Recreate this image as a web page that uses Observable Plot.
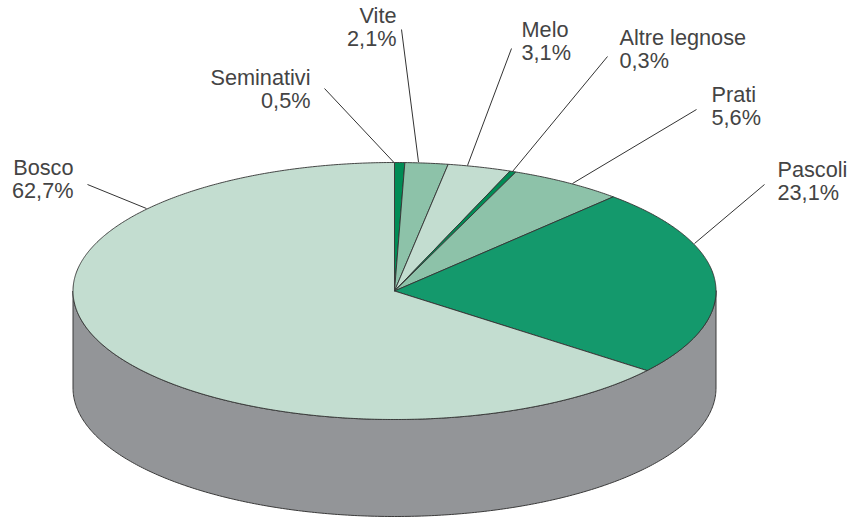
<!DOCTYPE html>
<html><head><meta charset="utf-8">
<script src="https://cdn.jsdelivr.net/npm/d3@7"></script>
<script src="https://cdn.jsdelivr.net/npm/@observablehq/plot@0.6"></script>
<style>html,body{margin:0;padding:0;background:#fff}svg{display:block}</style>
</head><body><div id="chart"></div>
<script>
// Data
const categories = ["Seminativi","Vite","Melo","Altre legnose","Prati","Pascoli","Bosco"];
const shares = [0.5,2.1,3.1,0.3,5.6,23.1,62.7];
const shareLabels = ["0,5%","2,1%","3,1%","0,3%","5,6%","23,1%","62,7%"];
const sliceColors = ["#008c55","#8dc2a9","#c3ddd0","#008c55","#8dc2a9","#14996c","#c3ddd0"];

// Layout (drawing positions, kept apart from the values)
const W = 848, H = 518;
const cx = 394, cy = 290.5, rx = 321.5, ry = 128.5, depth = 97;
const labelX = [310,396,521,619,711,777,73];
const labelY = [89,27,41,49,106,181,179];
const labelAnchor = ["end","end","start","start","start","start","end"];
const leaderFrom = [[393,161.5],[418,161.5],[467,165],[512,171],[572,183],[694,243],[146,208]];
const leaderTo = [[324,88],[401,29],[511,48],[607,56],[696,109],[764,184],[87,184]];

const total = d3.sum(shares);
const TAU = Math.PI * 2;
const px = t => cx + rx * Math.sin(t);
const py = t => cy - ry * Math.cos(t);

// wedge outlines from the shares
const wedges = [];
let start = 0;
categories.forEach((name, i) => {
  const end = start + shares[i] / total * TAU;
  const n = Math.max(2, Math.ceil((end - start) * 120));
  wedges.push({name, x: cx, y: cy});
  for (let k = 0; k <= n; k++) {
    const t = start + (end - start) * k / n;
    wedges.push({name, x: px(t), y: py(t)});
  }
  wedges.push({name, x: cx, y: cy});
  start = end;
});

// cylinder wall
const wall = [];
for (let k = 0; k <= 300; k++) { const t = Math.PI/2 + Math.PI*k/300; wall.push({x: px(t), y: py(t)}); }
for (let k = 300; k >= 0; k--) { const t = Math.PI/2 + Math.PI*k/300; wall.push({x: px(t), y: py(t) + depth}); }
wall.push(wall[0]);

const leaders = categories.map((name, i) => ({name, x1: leaderFrom[i][0], y1: leaderFrom[i][1], x2: leaderTo[i][0], y2: leaderTo[i][1]}));
const labels = categories.map((name, i) => ({text: name + "\n" + shareLabels[i], x: labelX[i], y: labelY[i], anchor: labelAnchor[i]}));
const textMark = a => Plot.text(labels.filter(d => d.anchor === a), {
  x: "x", y: "y", text: "text", textAnchor: a, lineHeight: 1.04,
  fontSize: 21.7, fontFamily: "Liberation Sans", fill: "#444"
});

const plot = Plot.plot({
  width: W, height: H, margin: 0,
  x: {domain: [0, W], range: [0, W], axis: null},
  y: {domain: [0, H], range: [0, H], axis: null},
  color: {domain: categories, range: sliceColors, legend: false},
  style: {background: "#fff"},
  marks: [
    Plot.line(wall, {x: "x", y: "y", fill: "#939598", stroke: "#3a3a3a", strokeWidth: 1, curve: "linear"}),
    Plot.line(wedges, {x: "x", y: "y", z: "name", fill: "name", stroke: "#333", strokeWidth: 0.9, curve: "linear", strokeLinejoin: "round"}),
    Plot.link(leaders, {x1: "x1", y1: "y1", x2: "x2", y2: "y2", stroke: "#333", strokeWidth: 1}),
    textMark("start"),
    textMark("end")
  ]
});
document.getElementById("chart").append(plot);
</script></body></html>
